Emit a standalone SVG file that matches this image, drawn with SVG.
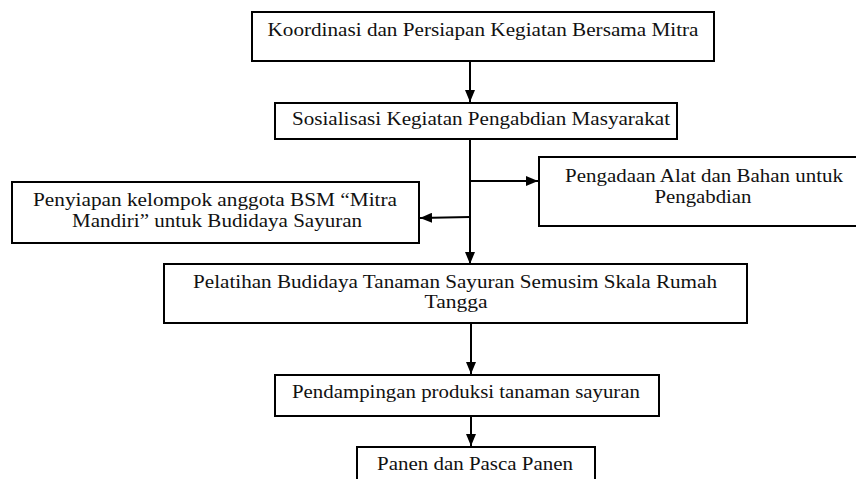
<svg xmlns="http://www.w3.org/2000/svg" width="856" height="479" viewBox="0 0 856 479">
<defs>
<marker id="ah" viewBox="0 0 12 10" refX="12" refY="5" markerWidth="12" markerHeight="10" markerUnits="userSpaceOnUse" orient="auto">
<path d="M0,0 L12,5 L0,10 Z" fill="#000"/>
</marker>
<style>
.box{fill:#fff;stroke:#000;stroke-width:2}
.t{font-family:'Liberation Serif','Times New Roman','DejaVu Serif',serif;font-size:18px;fill:#111;text-anchor:middle}
.c{fill:none;stroke:#000;stroke-width:2;marker-end:url(#ah)}
</style>
</defs>
<rect width="856" height="479" fill="#fff"/>
<g id="connectors">
<line class="c" x1="470" y1="61" x2="470" y2="102"/>
<line class="c" x1="470" y1="139" x2="470" y2="264"/>
<line class="c" x1="470" y1="181" x2="538" y2="181"/>
<line class="c" x1="470" y1="217" x2="420" y2="218"/>
<line class="c" x1="471" y1="323" x2="471" y2="374"/>
<line class="c" x1="471" y1="416" x2="471" y2="446"/>
</g>
<g id="n1">
<rect class="box" x="252" y="12" width="462" height="49"/>
<text class="t" font-family="Liberation Serif, serif" x="483" y="36" textLength="431" lengthAdjust="spacingAndGlyphs">Koordinasi dan Persiapan Kegiatan Bersama Mitra</text>
</g>
<g id="n2">
<rect class="box" x="275" y="103" width="402" height="36"/>
<text class="t" x="481" y="125" textLength="378" lengthAdjust="spacingAndGlyphs">Sosialisasi Kegiatan Pengabdian Masyarakat</text>
</g>
<g id="n3">
<rect class="box" x="539" y="157" width="320" height="69"/>
<text class="t" x="704" y="182" textLength="278" lengthAdjust="spacingAndGlyphs">Pengadaan Alat dan Bahan untuk</text>
<text class="t" x="703" y="203" textLength="97" lengthAdjust="spacingAndGlyphs">Pengabdian</text>
</g>
<g id="n4">
<rect class="box" x="12" y="182" width="407" height="61"/>
<text class="t" x="215" y="206" textLength="364" lengthAdjust="spacingAndGlyphs">Penyiapan kelompok anggota BSM “Mitra</text>
<text class="t" x="217" y="227" textLength="290" lengthAdjust="spacingAndGlyphs">Mandiri” untuk Budidaya Sayuran</text>
</g>
<g id="n5">
<rect class="box" x="164" y="264" width="583" height="59"/>
<text class="t" x="455" y="288" textLength="524" lengthAdjust="spacingAndGlyphs">Pelatihan Budidaya Tanaman Sayuran Semusim Skala Rumah</text>
<text class="t" x="456" y="308" textLength="63" lengthAdjust="spacingAndGlyphs">Tangga</text>
</g>
<g id="n6">
<rect class="box" x="275" y="375" width="384" height="41"/>
<text class="t" x="466" y="398" textLength="348" lengthAdjust="spacingAndGlyphs">Pendampingan produksi tanaman sayuran</text>
</g>
<g id="n7">
<rect class="box" x="357" y="447" width="238" height="40"/>
<text class="t" x="475" y="470" textLength="196" lengthAdjust="spacingAndGlyphs">Panen dan Pasca Panen</text>
</g>
</svg>
